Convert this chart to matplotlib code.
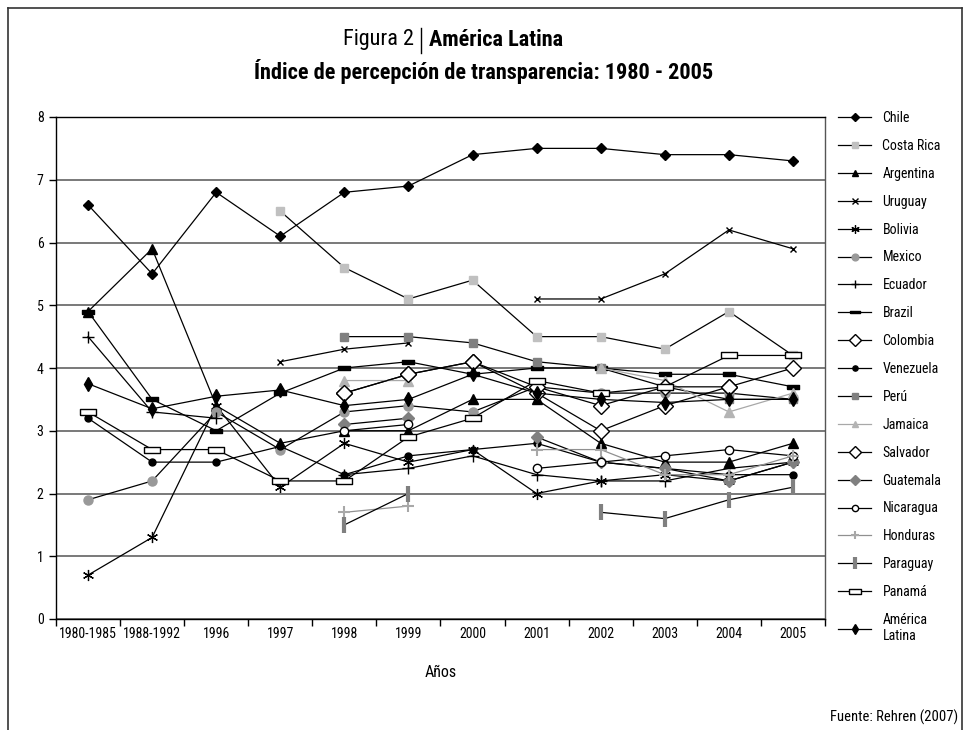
import numpy as np
import matplotlib
matplotlib.use('Agg')
import matplotlib.pyplot as plt
from matplotlib import font_manager as fm
from matplotlib.lines import Line2D

n = np.nan

# Data
years = ['1980-1985', '1988-1992', '1996', '1997', '1998', '1999',
         '2000', '2001', '2002', '2003', '2004', '2005']

chile = [6.6, 5.5, 6.8, 6.1, 6.8, 6.9, 7.4, 7.5, 7.5, 7.4, 7.4, 7.3]
costa_rica = [n, n, n, 6.5, 5.6, 5.1, 5.4, 4.5, 4.5, 4.3, 4.9, 4.2]
argentina = [4.9, 5.9, 3.4, 2.8, 3.0, 3.0, 3.5, 3.5, 2.8, 2.5, 2.5, 2.8]
uruguay = [n, n, n, 4.1, 4.3, 4.4, n, 5.1, 5.1, 5.5, 6.2, 5.9]
bolivia = [0.7, 1.3, 3.4, 2.1, 2.8, 2.5, 2.7, 2.0, 2.2, 2.3, 2.2, 2.5]
mexico = [1.9, 2.2, 3.3, 2.7, 3.3, 3.4, 3.3, 3.7, 3.6, 3.6, 3.6, 3.5]
ecuador = [4.5, 3.3, 3.2, n, 2.3, 2.4, 2.6, 2.3, 2.2, 2.2, 2.4, 2.5]
brazil = [4.9, 3.5, 3.0, 3.6, 4.0, 4.1, 3.9, 4.0, 4.0, 3.9, 3.9, 3.7]
colombia = [n, n, n, n, 3.6, 3.9, 4.1, 3.6, 3.0, 3.4, 3.7, 4.0]
venezuela = [3.2, 2.5, 2.5, 2.75, 2.3, 2.6, 2.7, 2.8, 2.5, 2.4, 2.3, 2.3]
peru = [n, n, n, n, 4.5, 4.5, 4.4, 4.1, 4.0, 3.7, 3.5, 3.5]
jamaica = [n, n, n, n, 3.8, 3.8, n, n, 4.0, 3.8, 3.3, 3.6]
salvador = [n, n, n, n, 3.6, 3.9, 4.1, 3.7, 3.4, 3.7, 3.7, n]
guatemala = [n, n, n, n, 3.1, 3.2, n, 2.9, 2.5, 2.4, 2.2, 2.5]
nicaragua = [n, n, n, n, 3.0, 3.1, n, 2.4, 2.5, 2.6, 2.7, 2.6]
honduras = [n, n, n, n, 1.7, 1.8, n, 2.7, 2.7, 2.3, 2.3, 2.6]
paraguay = [n, n, n, n, 1.5, 2.0, n, n, 1.7, 1.6, 1.9, 2.1]
panama = [3.3, 2.7, 2.7, 2.2, 2.2, 2.9, 3.2, 3.8, 3.6, 3.7, 4.2, 4.2]
america_latina = [3.75, 3.35, 3.55, 3.65, 3.4, 3.5, 3.9, 3.6, 3.5, 3.45, 3.5, 3.5]

# pick a narrow font if one is installed
installed = {f.name for f in fm.fontManager.ttflist}
font = 'DejaVu Sans'
for cand in ['Roboto Condensed', 'Liberation Sans Narrow', 'Arial Narrow', 'Open Sans Condensed']:
    if cand in installed:
        font = cand
        break
plt.rcParams['font.family'] = [font, 'DejaVu Sans']
if font == 'DejaVu Sans':
    plt.rcParams['font.stretch'] = 'condensed'

# custom markers
rect_wide = [(-1, -0.4), (1, -0.4), (1, 0.4), (-1, 0.4), (-1, -0.4)]
dash_wide = [(-1, -0.3), (1, -0.3), (1, 0.3), (-1, 0.3), (-1, -0.3)]
asterisk = (6, 2, 0)

# (label, values, line color, marker, size, face, edge, marker edge width)
series = [
    ('Chile', chile, 'black', 'D', 5.5, 'black', 'black', 1),
    ('Costa Rica', costa_rica, 'black', 's', 5.5, '#c0c0c0', '#c0c0c0', 1),
    ('Argentina', argentina, 'black', '^', 6.5, 'black', 'black', 1),
    ('Uruguay', uruguay, 'black', 'x', 5, 'black', 'black', 1),
    ('Bolivia', bolivia, 'black', asterisk, 8, 'black', 'black', 0.9),
    ('Mexico', mexico, 'black', 'o', 6.5, '#999999', '#999999', 1),
    ('Ecuador', ecuador, 'black', '+', 8, 'black', 'black', 1),
    ('Brazil', brazil, 'black', dash_wide, 9, 'black', 'black', 1),
    ('Colombia', colombia, 'black', 'D', 8, 'white', 'black', 1),
    ('Venezuela', venezuela, 'black', 'o', 5, 'black', 'black', 1),
    ('Perú', peru, 'black', 's', 5.5, '#808080', '#808080', 1),
    ('Jamaica', jamaica, '#a8a8a8', '^', 6.5, '#b4b4b4', '#b4b4b4', 1),
    ('Salvador', salvador, 'black', 'D', 8, 'white', 'black', 1),
    ('Guatemala', guatemala, 'black', 'D', 6.5, '#808080', '#808080', 1),
    ('Nicaragua', nicaragua, 'black', 'o', 6, 'white', 'black', 1),
    ('Honduras', honduras, '#909090', '+', 8, '#a8a8a8', '#a8a8a8', 1.5),
    ('Paraguay', paraguay, 'black', '|', 11, '#808080', '#808080', 3),
    ('Panamá', panama, 'black', rect_wide, 12, 'white', 'black', 1),
    ('América\nLatina', america_latina, 'black', 'd', 7, 'black', 'black', 1),
]

fig = plt.figure(figsize=(9.67, 7.3), dpi=100)
ax = fig.add_axes([56 / 967, 1 - 619 / 730, (825 - 56) / 967, (619 - 117) / 730])

x = np.arange(len(years))
for label, vals, lc, mk, ms, fc, ec, mew in series:
    ax.plot(x, vals, color=lc, lw=0.9, marker=mk, markersize=ms,
            markerfacecolor=fc, markeredgecolor=ec, markeredgewidth=mew,
            label=label, zorder=3)

ax.set_xlim(-0.5, len(years) - 0.5)
ax.set_ylim(0, 8)
ax.set_yticks(range(0, 9))
ax.set_xticks(x)
ax.set_xticklabels(years, fontsize=10)
ax.set_xticks(np.arange(-0.5, len(years)), minor=True)
ax.tick_params(axis='x', which='major', length=0, pad=6)
ax.tick_params(axis='x', which='minor', length=5, width=1, direction='out')
ax.tick_params(axis='y', length=5, width=1, labelsize=10, pad=4)
ax.yaxis.grid(True, color='#555555', lw=1.1, zorder=1)
for s in ax.spines.values():
    s.set_color('black')
    s.set_linewidth(1)
ax.spines['right'].set_color('#555555')
ax.set_xlabel('Años', fontsize=11.5, labelpad=17)

ax.legend(loc='upper left', bbox_to_anchor=(838 / 967, 1 - 111 / 730),
          bbox_transform=fig.transFigure, frameon=False, fontsize=10,
          handlelength=2.4, handletextpad=0.8, labelspacing=1.0,
          markerscale=0.75, borderpad=0, borderaxespad=0)

# title
fig.text(414 / 967, 1 - 40 / 730, 'Figura 2', ha='right', va='center', fontsize=16)
fig.add_artist(Line2D([421 / 967, 421 / 967], [1 - 28 / 730, 1 - 53 / 730],
                      color='black', lw=1))
fig.text(429 / 967, 1 - 40 / 730, 'América Latina', ha='left', va='center',
         fontsize=16, fontweight='bold')
fig.text(484 / 967, 1 - 72 / 730,
         'Índice de percepción de transparencia: 1980 - 2005',
         ha='center', va='center', fontsize=16, fontweight='bold')

fig.text(958 / 967, 1 - 717 / 730, 'Fuente: Rehren (2007)', ha='right',
         va='center', fontsize=10.5)

# outer frame (open at the bottom)
for xs, ys in [([8, 8], [8, 730]), ([962, 962], [8, 730]), ([8, 962], [8, 8])]:
    fig.add_artist(Line2D([v / 967 for v in xs], [1 - v / 730 for v in ys],
                          color='#333333', lw=1.2))

fig.savefig('out.png', dpi=100)
